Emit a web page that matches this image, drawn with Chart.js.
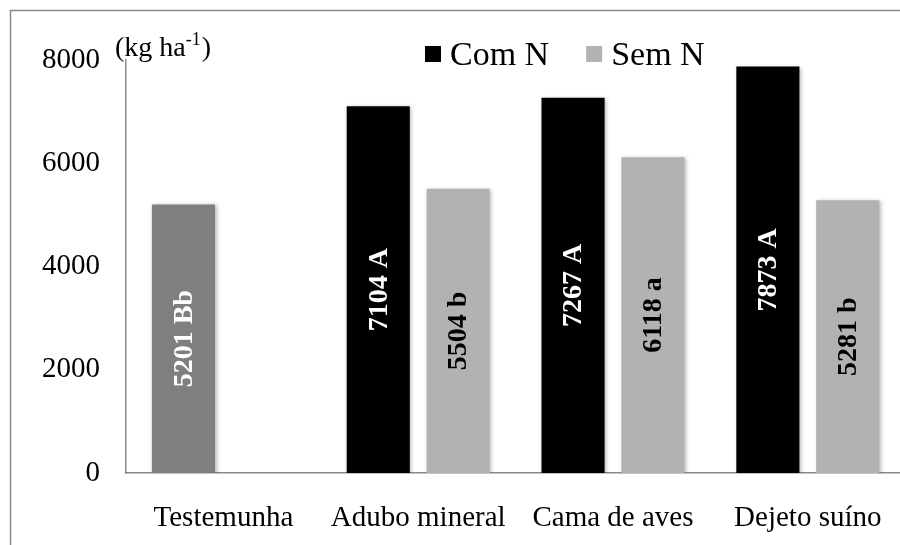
<!DOCTYPE html>
<html>
<head>
<meta charset="utf-8">
<script src="https://cdn.jsdelivr.net/npm/chart.js@4"></script>
<style>
  html, body { margin: 0; padding: 0; background: #fff; }
  body { width: 900px; height: 545px; overflow: hidden; }
</style>
</head>
<body>
<canvas id="myChart" width="910" height="545"></canvas>
<script>
const categories = ["Testemunha", "Adubo mineral", "Cama de aves", "Dejeto suíno"];
const comN = [5201, 7104, 7267, 7873];
const semN = [null, 5504, 6118, 5281];
const comLetters = ["Bb", "A", "A", "A"];
const semLetters = [null, "b", "a", "b"];
const yTicks = [0, 2000, 4000, 6000, 8000];

const serif = "'Liberation Serif', 'Times New Roman', serif";
const comColor = "#000000";
const semColor = "#b2b2b2";
const testColor = "#7f7f7f";
const axisColor = "#8a8a8a";

// outer frame, cut off at right and bottom like the original
const framePlugin = {
  id: 'frame',
  beforeDraw(chart) {
    const c = chart.ctx;
    c.save();
    c.fillStyle = '#fff';
    c.fillRect(0, 0, chart.width, chart.height);
    c.strokeStyle = axisColor;
    c.lineWidth = 1.5;
    c.strokeRect(10.5, 10.5, 2000, 2000);
    c.restore();
  }
};

// soft shadow around the bars
const shadowPlugin = {
  id: 'barShadow',
  beforeDatasetsDraw(chart) {
    const c = chart.ctx;
    c.save();
    c.shadowColor = 'rgba(0,0,0,0.28)';
    c.shadowBlur = 4;
    c.shadowOffsetX = 1.5;
    c.shadowOffsetY = 1;
  },
  afterDatasetsDraw(chart) {
    chart.ctx.restore();
  }
};

// rotated value + letter labels inside bars
const barLabels = {
  id: 'barLabels',
  afterDatasetsDraw(chart) {
    const c = chart.ctx;
    const letters = [comLetters, semLetters];
    const colors = ['#fff', '#000'];
    chart.data.datasets.forEach((ds, i) => {
      const meta = chart.getDatasetMeta(i);
      meta.data.forEach((bar, j) => {
        const v = ds.data[j];
        if (v === null || v === undefined) return;
        c.save();
        c.translate(bar.x, (bar.y + bar.base) / 2);
        c.rotate(-Math.PI / 2);
        c.font = 'bold 28px ' + serif;
        c.fillStyle = colors[i];
        c.textAlign = 'center';
        c.textBaseline = 'middle';
        c.fillText(v + ' ' + letters[i][j], 0, 1);
        c.restore();
      });
    });
  }
};

// legend and unit label
const extras = {
  id: 'extras',
  afterDraw(chart) {
    const c = chart.ctx;
    c.save();
    c.fillStyle = '#000';
    c.textBaseline = 'alphabetic';
    c.textAlign = 'left';
    // unit
    c.font = '28px ' + serif;
    let x = 115;
    c.fillText('(kg ha', x, 56);
    x += c.measureText('(kg ha').width;
    c.font = '18px ' + serif;
    c.fillText('-1', x, 45);
    x += c.measureText('-1').width + 1;
    c.font = '28px ' + serif;
    c.fillText(')', x, 56);
    // legend
    const items = [['Com N', comColor], ['Sem N', semColor]];
    let lx = 425;
    c.font = '34px ' + serif;
    items.forEach(([label, col]) => {
      c.fillStyle = col;
      c.fillRect(lx, 46, 16, 16);
      c.fillStyle = '#000';
      c.fillText(label, lx + 25, 65);
      lx += 25 + c.measureText(label).width + 37;
    });
    c.restore();
  }
};

new Chart(document.getElementById('myChart'), {
  type: 'bar',
  data: {
    labels: categories,
    datasets: [
      {
        label: 'Com N',
        data: comN,
        backgroundColor: categories.map(cat => cat === 'Testemunha' ? testColor : comColor),
        categoryPercentage: 0.82,
        barPercentage: 0.79
      },
      {
        label: 'Sem N',
        data: semN,
        backgroundColor: semColor,
        categoryPercentage: 0.82,
        barPercentage: 0.79
      }
    ]
  },
  options: {
    responsive: false,
    animation: false,
    devicePixelRatio: 1,
    layout: { padding: { top: 60, right: 4, left: 0, bottom: 0 } },
    plugins: {
      legend: { display: false },
      tooltip: { enabled: false }
    },
    scales: {
      x: {
        grid: { display: false, drawTicks: false },
        border: { display: true, color: axisColor, width: 1.5 },
        ticks: { color: '#000', font: { family: serif, size: 29 }, padding: 28, maxRotation: 0, autoSkip: false },
        afterFit: s => { s.height = 72; }
      },
      y: {
        min: 0,
        max: 8000,
        afterBuildTicks: s => { s.ticks = yTicks.map(v => ({ value: v })); },
        grid: { display: false, drawTicks: false },
        border: { display: true, color: axisColor, width: 1.5 },
        ticks: { color: '#000', font: { family: serif, size: 29 }, padding: 26, callback: v => String(v) },
        afterFit: s => { s.width = 126; }
      }
    }
  },
  plugins: [framePlugin, shadowPlugin, barLabels, extras]
});
</script>
</body>
</html>
